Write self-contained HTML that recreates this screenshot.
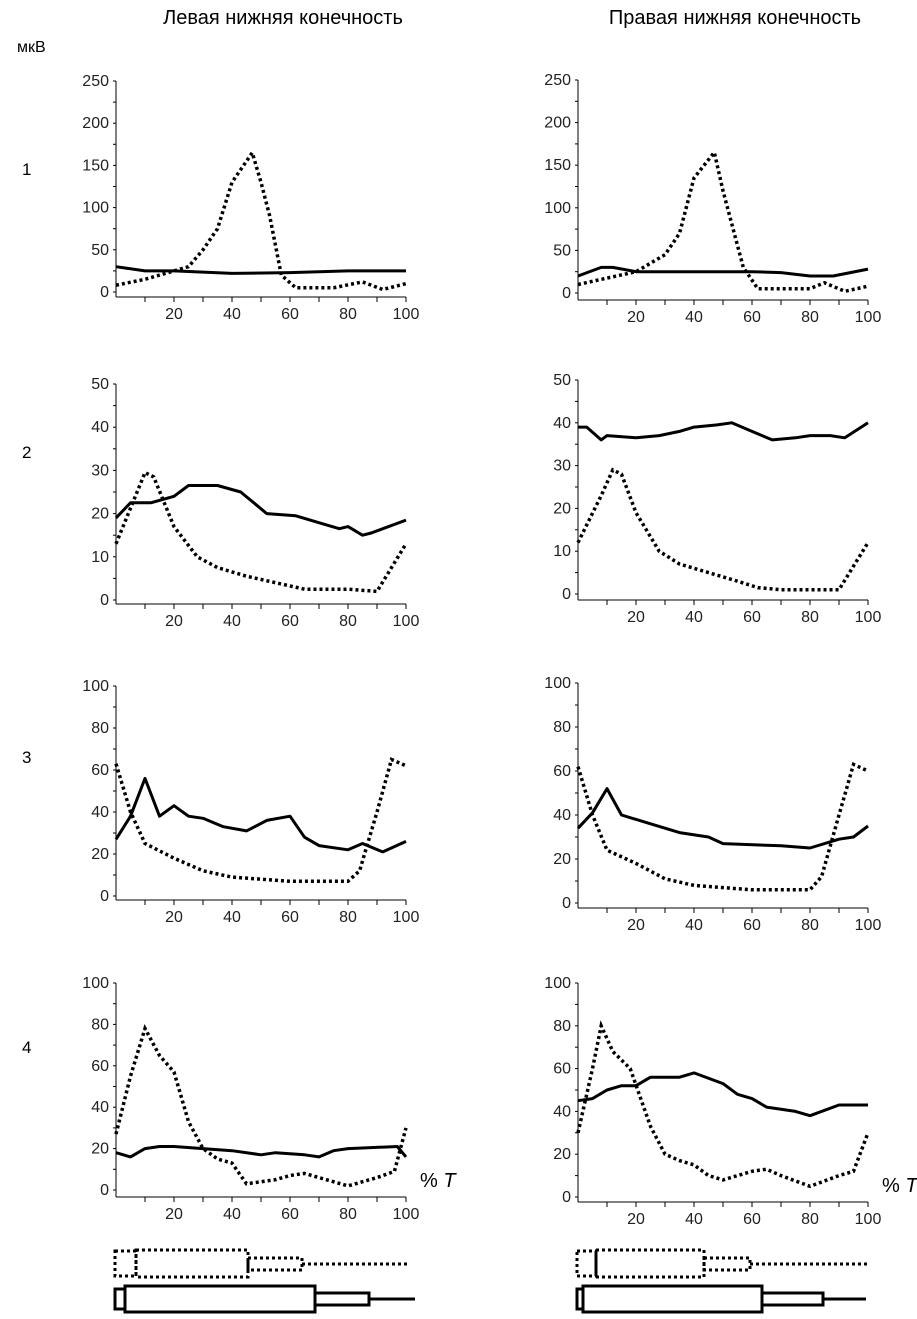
<!DOCTYPE html>
<html><head><meta charset="utf-8">
<style>
body{margin:0;background:#fff;}
svg{display:block;font-family:"Liberation Sans",Arial,sans-serif;}
</style></head>
<body>
<svg id="c" width="917" height="1319" viewBox="0 0 917 1319">
<text x="283" y="24" font-size="20" text-anchor="middle">Левая нижняя конечность</text>
<text x="735" y="24" font-size="20" text-anchor="middle">Правая нижняя конечность</text>
<text x="17" y="52" font-size="16">мкВ</text>
<g id="plots"></g>
<g fill="none" stroke="#000" stroke-width="3">
<rect x="115" y="1251" width="21" height="25" stroke-dasharray="3 3"/>
<rect x="136" y="1250" width="112" height="27" stroke-dasharray="3 3"/>
<rect x="248" y="1258" width="54" height="12" stroke-dasharray="3 3"/>
<line x1="302" y1="1264" x2="410" y2="1264" stroke-dasharray="3 3"/>
<rect x="115" y="1289" width="10" height="20"/>
<rect x="125" y="1286" width="190" height="26"/>
<rect x="315" y="1293" width="54" height="12"/>
<line x1="369" y1="1299" x2="415" y2="1299"/>
</g>
<g fill="none" stroke="#000" stroke-width="3">
<rect x="577" y="1251" width="19" height="25" stroke-dasharray="3 3"/>
<rect x="596" y="1250" width="108" height="27" stroke-dasharray="3 3"/>
<rect x="704" y="1258" width="46" height="12" stroke-dasharray="3 3"/>
<line x1="750" y1="1264" x2="868" y2="1264" stroke-dasharray="3 3"/>
<rect x="577" y="1289" width="6" height="20"/>
<rect x="583" y="1286" width="179" height="26"/>
<rect x="762" y="1293" width="61" height="12"/>
<line x1="823" y1="1299" x2="866" y2="1299"/>
</g>
</svg>
<script>
const xTicks = [20,40,60,80,100];
const rowLabels = ["1","2","3","4"];
const yTicks1 = [0,50,100,150,200,250];
const yTicks2 = [0,10,20,30,40,50];
const yTicks3 = [0,20,40,60,80,100];
const yTicks4 = [0,20,40,60,80,100];

const L1solidX=[0,10,20,40,60,80,100], L1solidY=[30,25,25,22,23,25,25];
const L1dotX=[0,10,20,25,30,35,40,47,50,53,57,62,75,85,92,100], L1dotY=[8,15,25,30,50,75,130,165,130,90,20,5,5,12,3,10];
const R1solidX=[0,8,12,20,40,60,70,80,88,100], R1solidY=[20,30,30,25,25,25,24,20,20,28];
const R1dotX=[0,20,30,35,40,47,50,57,62,80,85,92,100], R1dotY=[10,25,45,70,135,165,120,30,5,5,12,2,8];

const L2solidX=[0,5,12,20,25,35,43,52,62,72,77,80,85,88,100], L2solidY=[19,22.5,22.5,24,26.5,26.5,25,20,19.5,17.5,16.5,17,15,15.5,18.5];
const L2dotX=[0,10,13,20,28,35,45,55,65,80,90,100], L2dotY=[13,29.5,28.5,17,10,7.5,5.5,4,2.5,2.5,2,13];
const R2solidX=[0,3,8,10,20,28,35,40,48,53,60,67,75,80,87,92,100], R2solidY=[39,39,36,37,36.5,37,38,39,39.5,40,38,36,36.5,37,37,36.5,40];
const R2dotX=[0,8,12,15,20,28,35,45,55,62,70,85,90,100], R2dotY=[12,23,29,28,19,10,7,5,3,1.5,1,1,1,12];

const L3solidX=[0,5,10,15,20,25,30,37,45,52,60,65,70,80,85,92,100], L3solidY=[27,38,56,38,43,38,37,33,31,36,38,28,24,22,25,21,26];
const L3dotX=[0,5,10,20,30,40,50,60,70,80,84,90,95,100], L3dotY=[63,40,25,18,12,9,8,7,7,7,12,40,65,62];
const R3solidX=[0,5,10,15,25,35,45,50,70,80,90,95,100], R3solidY=[34,41,52,40,36,32,30,27,26,25,29,30,35];
const R3dotX=[0,5,10,20,30,40,50,60,80,84,90,95,100], R3dotY=[62,40,24,18,11,8,7,6,6,12,40,63,60];

const L4solidX=[0,5,10,15,20,30,40,50,55,60,65,70,75,80,97,100], L4solidY=[18,16,20,21,21,20,19,17,18,17.5,17,16,19,20,21,16];
const L4dotX=[0,5,10,15,20,25,30,35,40,45,55,60,65,70,80,90,96,100], L4dotY=[27,55,78,65,57,33,20,15,13,3,5,7,8,6,2,6,9,30];
const R4solidX=[0,5,10,15,20,25,35,40,50,55,60,65,75,80,90,100], R4solidY=[45,46,50,52,52,56,56,58,53,48,46,42,40,38,43,43];
const R4dotX=[0,5,8,12,18,25,30,35,40,45,50,60,65,70,80,90,95,100], R4dotY=[30,60,80,68,60,33,20,17,15,10,8,12,13,10,5,10,12,30];

const NS="http://www.w3.org/2000/svg";
const root=document.getElementById('plots');
function mk(tag,attrs,parent){const e=document.createElementNS(NS,tag);for(const k in attrs)e.setAttribute(k,attrs[k]);parent.appendChild(e);return e;}

const panels=[
 {id:'left-1',x0:116,x1:406,yz:292,yt:81,max:250,ay:297,ticks:yTicks1,s:[L1solidX,L1solidY],d:[L1dotX,L1dotY]},
 {id:'right-1',x0:578,x1:868,yz:293,yt:80,max:250,ay:300,ticks:yTicks1,s:[R1solidX,R1solidY],d:[R1dotX,R1dotY]},
 {id:'left-2',x0:116,x1:406,yz:600,yt:384,max:50,ay:604,ticks:yTicks2,s:[L2solidX,L2solidY],d:[L2dotX,L2dotY]},
 {id:'right-2',x0:578,x1:868,yz:594,yt:380,max:50,ay:600,ticks:yTicks2,s:[R2solidX,R2solidY],d:[R2dotX,R2dotY]},
 {id:'left-3',x0:116,x1:406,yz:896,yt:686,max:100,ay:900,ticks:yTicks3,s:[L3solidX,L3solidY],d:[L3dotX,L3dotY]},
 {id:'right-3',x0:578,x1:868,yz:903,yt:683,max:100,ay:908,ticks:yTicks3,s:[R3solidX,R3solidY],d:[R3dotX,R3dotY]},
 {id:'left-4',x0:116,x1:406,yz:1190,yt:983,max:100,ay:1197,ticks:yTicks4,s:[L4solidX,L4solidY],d:[L4dotX,L4dotY]},
 {id:'right-4',x0:578,x1:868,yz:1197,yt:983,max:100,ay:1202,ticks:yTicks4,s:[R4solidX,R4solidY],d:[R4dotX,R4dotY]}
];
panels.forEach((p,i)=>{
 const g=mk('g',{},root);
 
 
 const X=v=>p.x0+(p.x1-p.x0)*v/100;
 const Y=v=>p.yz-(p.yz-p.yt)*v/p.max;
 const ya=mk('line',{x1:p.x0,y1:p.yt,x2:p.x0,y2:p.ay,stroke:'#000','stroke-width':1},g);
 
 
 const xa=mk('line',{x1:p.x0,y1:p.ay,x2:p.x1,y2:p.ay,stroke:'#000','stroke-width':1},g);
 
 
 for(let v=10;v<=100;v+=10) mk('line',{x1:X(v),y1:p.ay,x2:X(v),y2:p.ay+5,stroke:'#000'},g);
 const step=p.ticks[1]-p.ticks[0];
 for(let v=0;v<=p.max;v+=step/2) mk('line',{x1:p.x0-3,y1:Y(v),x2:p.x0,y2:Y(v),stroke:'#000'},g);
 p.ticks.forEach(t=>{const tx=mk('text',{x:p.x0-7,y:Y(t)+5,'font-size':16,'text-anchor':'end',fill:'#222'},g);tx.textContent=t;
  
  });
 xTicks.forEach(t=>{const tx=mk('text',{x:X(t),y:p.ay+22,'font-size':16,'text-anchor':'middle',fill:'#222'},g);tx.textContent=t;
  
  });
 const pts=(xs,ys)=>xs.map((x,k)=>X(x).toFixed(1)+','+Y(ys[k]).toFixed(1)).join(' ');
 const sl=mk('polyline',{points:pts(p.s[0],p.s[1]),fill:'none',stroke:'#000','stroke-width':3,'stroke-linejoin':'round'},g);
 
 
 const dl=mk('polyline',{points:pts(p.d[0],p.d[1]),fill:'none',stroke:'#000','stroke-width':3.5,'stroke-dasharray':'3 3'},g);
 
 
 if(i>=6){const pt=mk('text',{x:p.x1+14,y:p.ay-10,'font-size':20},g);pt.innerHTML='% <tspan font-style="italic">T</tspan>';
  
  }
});
const rowY=[175,458,763,1053];
rowLabels.forEach((r,k)=>{const t=mk('text',{x:22,y:rowY[k],'font-size':17},root);t.textContent=r;
 
 });
</script>
</body></html>
